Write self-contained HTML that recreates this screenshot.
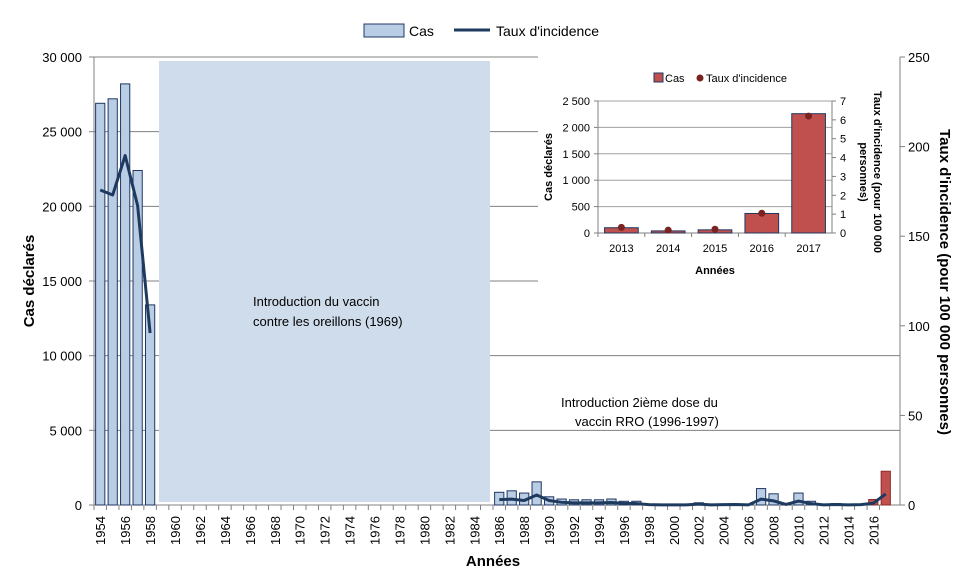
<!DOCTYPE html>
<html><head><meta charset="utf-8"><style>
body{margin:0;background:#fff;font-family:"Liberation Sans",sans-serif}
svg text{font-family:"Liberation Sans",sans-serif}
</style></head><body>
<svg id="c" width="964" height="574" xmlns="http://www.w3.org/2000/svg"></svg>
<script>
const years=[];for(let y=1954;y<=2017;y++)years.push(y);
const cases=[26900,27200,28200,22400,13400,null,null,null,null,null,null,null,null,null,null,null,null,null,null,null,null,null,null,null,null,null,null,null,null,null,null,null,850,950,800,1550,550,400,350,350,350,400,250,250,50,30,30,30,150,20,30,50,30,1100,750,80,800,250,30,100,40,60,370,2260];
const rates=[175.8,173,195,167,96,null,null,null,null,null,null,null,null,null,null,null,null,null,null,null,null,null,null,null,null,null,null,null,null,null,null,null,3,3.3,2.5,5.6,2.5,1.5,1.2,1.2,1.2,1.4,0.9,0.8,0.2,0.1,0.1,0.1,0.5,0.1,0.2,0.3,0.1,3.3,2.3,0.3,2.2,0.8,0.1,0.3,0.1,0.2,1.0,6.2];
const leftTicks=[0,5000,10000,15000,20000,25000,30000];
const leftLabels=["0","5 000","10 000","15 000","20 000","25 000","30 000"];
const rightTicks=[0,50,100,150,200,250];
const insetYears=["2013","2014","2015","2016","2017"];
const insetCases=[100,40,60,370,2260];
const insetRates=[0.3,0.15,0.2,1.05,6.2];
const insetLeft=[0,500,1000,1500,2000,2500];
const insetLeftLabels=["0","500","1 000","1 500","2 000","2 500"];
const insetRight=[0,1,2,3,4,5,6,7];

const svg=document.getElementById('c');const NS='http://www.w3.org/2000/svg';
function el(t,a,p){const e=document.createElementNS(NS,t);for(const k in a)e.setAttribute(k,a[k]);(p||svg).appendChild(e);return e;}
function tx(s,a,p){const e=el('text',a,p);e.textContent=s;return e;}
const X0=94,X1=900,XC1=892,Y0=505,Y1=57,n=years.length,cw=(XC1-X0)/n;
const xc=i=>X0+(i+0.5)*cw, yl=v=>Y0-(v/30000)*(Y0-Y1), yr=v=>Y0-(v/250)*(Y0-Y1);
leftTicks.forEach((v,i)=>{const g=el('line',{x1:X0,x2:(v>=15000?538:X1),y1:yl(v),y2:yl(v),stroke:'#808080','stroke-width':1});

const t=tx(leftLabels[i],{x:X0-12,y:yl(v)+5,'text-anchor':'end','font-size':13});
});
rightTicks.forEach(v=>{const t=tx(String(v),{x:X1+8,y:yr(v)+5,'font-size':13});
});
const sh=el('rect',{x:159,y:61,width:331,height:441,fill:'#cfdcec'});

tx('Introduction du vaccin',{x:253,y:306,'font-size':13});
tx('contre les oreillons (1969)',{x:253,y:326,'font-size':13});
tx('Introduction 2ième dose du',{x:561,y:407,'font-size':13});
tx('vaccin RRO (1996-1997)',{x:575,y:426,'font-size':13});
el('line',{x1:X0,x2:X0,y1:Y1,y2:Y0,stroke:'#808080'});
el('line',{x1:X1,x2:X1,y1:Y1,y2:Y0,stroke:'#808080'});
el('line',{x1:X0,x2:X1,y1:Y0,y2:Y0,stroke:'#808080'});
rightTicks.forEach(v=>el('line',{x1:X1,x2:X1+5,y1:yr(v),y2:yr(v),stroke:'#808080'}));
leftTicks.forEach(v=>el('line',{x1:X0-5,x2:X0,y1:yl(v),y2:yl(v),stroke:'#808080'}));
years.forEach((y,i)=>{
 el('line',{x1:X0+i*cw,x2:X0+i*cw,y1:Y0,y2:Y0+5,stroke:'#808080'});
 if(i%2==0){const t=tx(String(y),{transform:`translate(${xc(i)+5},${Y0+40}) rotate(-90)`,'font-size':13});
 }
 const v=cases[i];if(v==null)return;
 const r=el('rect',{x:xc(i)-cw*0.37,y:yl(v),width:cw*0.74,height:Y0-yl(v),fill:y>=2016?'#c0504d':'#b9cde5',stroke:y>=2016?'#8b2d2a':'#1f3864','stroke-width':1});
 
});
function seg(a,b){let pts=[];for(let i=a;i<=b;i++)if(rates[i]!=null)pts.push(xc(i)+','+yr(rates[i]));
 const p=el('polyline',{points:pts.join(' '),fill:'none',stroke:'#1f3a5f','stroke-width':3,'stroke-linejoin':'round'});
 }
seg(0,4);seg(32,n-1);
let t=tx('Cas déclarés',{transform:'translate(34,281) rotate(-90)','text-anchor':'middle','font-size':15,'font-weight':'bold'});

t=tx("Taux d'incidence (pour 100 000 personnes)",{transform:'translate(940,282) rotate(90)','text-anchor':'middle','font-size':15,'font-weight':'bold'});

t=tx('Années',{x:493,y:566,'text-anchor':'middle','font-size':15,'font-weight':'bold'});

const lg=el('g',{});
el('rect',{x:364,y:24,width:40,height:13,fill:'#b9cde5',stroke:'#1f3864'},lg);
tx('Cas',{x:409,y:36,'font-size':14},lg);
el('line',{x1:454,x2:490,y1:30,y2:30,stroke:'#1f3a5f','stroke-width':3},lg);
tx("Taux d'incidence",{x:496,y:36,'font-size':14},lg);
const g=el('g',{});
const IX0=598,IX1=832,IY0=233,IY1=101,icw=(IX1-IX0)/5;
const iyl=v=>IY0-v/2500*(IY0-IY1), iyr=v=>IY0-v/7*(IY0-IY1);
insetLeft.forEach((v,i)=>{if(v>0)el('line',{x1:IX0,x2:IX1,y1:iyl(v),y2:iyl(v),stroke:'#a0a0a0'},g);
 el('line',{x1:IX0-4,x2:IX0,y1:iyl(v),y2:iyl(v),stroke:'#808080'},g);
 tx(insetLeftLabels[i],{x:IX0-8,y:iyl(v)+4,'text-anchor':'end','font-size':11},g);});
insetRight.forEach(v=>{el('line',{x1:IX1,x2:IX1+4,y1:iyr(v),y2:iyr(v),stroke:'#808080'},g);
 tx(String(v),{x:IX1+8,y:iyr(v)+4,'font-size':11},g);});
el('line',{x1:IX0,x2:IX0,y1:IY1,y2:IY0,stroke:'#808080'},g);
el('line',{x1:IX1,x2:IX1,y1:IY1,y2:IY0,stroke:'#808080'},g);
el('line',{x1:IX0,x2:IX1,y1:IY0,y2:IY0,stroke:'#808080'},g);
insetYears.forEach((y,i)=>{const cx=IX0+(i+0.5)*icw;
 el('line',{x1:IX0+i*icw,x2:IX0+i*icw,y1:IY0,y2:IY0+4,stroke:'#808080'},g);
 tx(y,{x:cx,y:IY0+19,'text-anchor':'middle','font-size':11},g);
 const r=el('rect',{x:cx-icw*0.36,y:iyl(insetCases[i]),width:icw*0.72,height:IY0-iyl(insetCases[i]),fill:'#c0504d',stroke:'#1f3864'},g);
 
 const d=el('circle',{cx:cx,cy:iyr(insetRates[i]),r:3.5,fill:'#7b2222'},g);
 });
tx('Années',{x:715,y:274,'text-anchor':'middle','font-size':11,'font-weight':'bold'},g);
tx('Cas déclarés',{transform:'translate(552,167) rotate(-90)','text-anchor':'middle','font-size':11,'font-weight':'bold'},g);
tx("Taux d'incidence (pour 100 000",{transform:'translate(874,172) rotate(90)','text-anchor':'middle','font-size':11,'font-weight':'bold'},g);
tx('personnes)',{transform:'translate(860,172) rotate(90)','text-anchor':'middle','font-size':11,'font-weight':'bold'},g);
el('rect',{x:654,y:73,width:9,height:9,fill:'#c0504d',stroke:'#1f3864'},g);
tx('Cas',{x:665,y:82,'font-size':11},g);
el('circle',{cx:700,cy:78,r:3.5,fill:'#7b2222'},g);
tx("Taux d'incidence",{x:706,y:82,'font-size':11},g);
</script>
</body></html>
